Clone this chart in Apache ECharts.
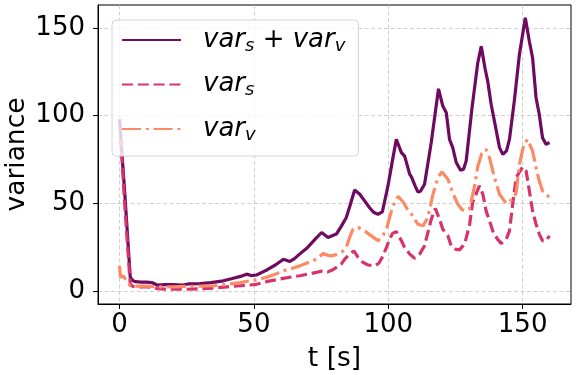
<!DOCTYPE html>
<html>
<head>
<meta charset="utf-8">
<script src="https://cdn.jsdelivr.net/npm/echarts@6/dist/echarts.min.js"></script>
<style>
  html, body { margin: 0; padding: 0; background: #fff; }
  #main { width: 577px; height: 375px; }
</style>
</head>
<body>
<div id="main"></div>
<script>
// var_s + var_v
const tTotal = [0, 0.5, 2, 4, 5, 6, 8, 10, 12, 14, 17, 20, 23, 26, 30, 34, 38.6, 42, 45, 47.3, 49, 51, 53, 55, 58, 61, 63.4, 65, 67, 70, 73, 75.2, 77.6, 80.7, 82.5, 84.4, 86, 87.5, 89.4, 91.2, 93, 94.5, 96.2, 97.8, 99.9, 101.5, 103, 104.9, 106.1, 108, 108.6, 110, 111, 112, 113.5, 116, 118.7, 120.3, 121.6, 122.8, 124, 125.3, 126.9, 128, 129, 131.1, 133.3, 134.6, 136, 137, 138.3, 139.5, 141.4, 142.6, 144, 145.1, 146.9, 148.8, 151, 152.5, 153.7, 155, 156.2, 157.4, 158.7, 160]
const vTotal = [98, 97, 55, 8, 6, 5.5, 5.2, 5.3, 5, 3.6, 3.8, 3.9, 3.5, 4.3, 4.4, 5, 6, 7.3, 8.5, 9.8, 9, 9.3, 10.8, 12.3, 15, 18.3, 17, 18.5, 21.2, 25, 30, 33.5, 30.7, 32.6, 37, 42, 50, 57.7, 55.3, 51.5, 47.7, 45, 43.9, 45.2, 60, 74, 86.5, 79, 77, 66.6, 65.3, 60, 56.6, 57, 61, 84.7, 115.3, 105.5, 101.7, 86.5, 81.8, 73.3, 68.9, 69.5, 74.2, 103.6, 130, 139.5, 127, 119.7, 106.4, 97, 81.8, 78, 80, 86.5, 108.3, 134.8, 155.7, 142.4, 133, 110.2, 100.7, 87.5, 83.7, 84.7]

// var_s
const tS = [0, 0.5, 2, 4, 5, 8, 10, 12, 14, 17, 20, 25, 30, 35, 40, 45, 48.5, 51, 54.7, 58, 60.9, 64, 67.1, 70, 73.3, 75.5, 77.5, 79, 80.7, 82.5, 83.8, 85.5, 87.2, 88.8, 90.6, 92.5, 95, 96.5, 98.1, 100.5, 101.6, 103, 104.9, 106.1, 108, 109.8, 111.7, 113.5, 116, 117.5, 119.1, 120.3, 122.2, 123.4, 125, 126.5, 128.4, 130.2, 131.4, 133.9, 135.2, 136.4, 137.7, 138.9, 140.5, 142, 143.9, 145.1, 146.3, 147.6, 150, 151.3, 152.5, 153.7, 155, 156.2, 157.4, 158.5, 160]
const vS = [84, 86, 48, 4, 2.8, 2.5, 2.5, 2.3, 1.6, 1.3, 1.2, 1.2, 1.5, 1.8, 2.6, 3.2, 3.6, 4, 5.5, 6.5, 7.4, 8.2, 8.9, 9.8, 10.8, 11.6, 11.1, 12, 13.6, 15.5, 18.3, 21, 23, 19.3, 16.5, 15, 14.5, 16, 20.2, 29.7, 33, 34, 28.8, 25, 21.2, 18.8, 21.2, 26, 41, 47.2, 41, 35.4, 31.6, 26, 24, 23.6, 26.9, 37.3, 50.6, 60, 55.3, 45.8, 40, 34.4, 30, 27.3, 29.7, 34.4, 49.6, 64.8, 70.8, 68.5, 57.2, 45.8, 38.2, 32.6, 28.8, 28.5, 31.6]

// var_v
const tV = [0, 0.4, 0.9, 1.5, 2.5, 4, 6, 10, 14, 20, 25, 30, 35, 40, 45, 48.5, 51, 54.7, 58, 60.9, 64, 67.1, 70, 73.3, 75.8, 77.5, 78.9, 81.3, 82.8, 84.4, 85.7, 86.9, 88.8, 91.2, 93.7, 96.2, 98, 99.3, 101.6, 103.6, 105.5, 107, 108.6, 111, 113, 114.7, 116.6, 118.5, 120, 122.2, 124, 125.9, 127.5, 129, 130.2, 132, 133.3, 134.8, 136.4, 137.7, 139.5, 141.4, 143.9, 146.3, 147.6, 148.8, 150.5, 151.9, 153.7, 155, 156.2, 157.4, 160]
const vV = [14.5, 8, 7, 8.7, 6, 3.2, 3, 3, 2.5, 2.5, 2.8, 3, 3.2, 4, 5, 6, 6.5, 8, 9.8, 11.7, 13, 14.5, 16.3, 18.3, 21.6, 20.5, 20.2, 21.2, 22.5, 25, 31, 35.4, 36.4, 34.4, 31.6, 28.8, 31.6, 35.4, 48, 54, 51, 47, 44, 38.2, 37.3, 42, 55, 65, 68, 63.8, 56, 49.6, 46.5, 45.8, 46.8, 59, 71, 78.5, 80.8, 76, 64.8, 55.3, 50, 52.4, 56.2, 72.3, 84, 86.5, 79.9, 70.5, 62.8, 57.2, 53.4]

const xTicks = [0, 50, 100, 150]
const yTicks = [0, 50, 100, 150]

const pairs = (ts, vs) => ts.map((t, i) => [t, vs[i]])

const myChart = echarts.init(document.getElementById('main'), null, { renderer: 'canvas' })

const gridLine = { show: true, lineStyle: { color: '#c4c4c4', width: 0.8, type: [4, 2.5] } }
const tickFont = { fontFamily: 'DejaVu Sans', fontSize: 26, color: '#000' }
const nameFont = { fontFamily: 'DejaVu Sans', fontSize: 26.5, color: '#000' }
const legendFont = { fontFamily: 'DejaVu Sans', fontStyle: 'italic', fontSize: 26, color: '#000' }

const option = {
  animation: false,
  grid: {
    left: 98, right: 6, top: 5, bottom: 71,
    outerBoundsMode: 'none', containLabel: false,
    show: true, borderColor: '#000', borderWidth: 1, backgroundColor: 'transparent'
  },
  xAxis: {
    type: 'value', min: -8, max: 168,
    name: 't [s]', nameLocation: 'middle', nameGap: 42, nameMoveOverlap: false,
    nameTextStyle: nameFont,
    axisLine: { show: true, onZero: false, lineStyle: { color: '#000', width: 1 } },
    axisTick: { show: true, length: 5, customValues: xTicks, lineStyle: { color: '#000' } },
    axisLabel: Object.assign({ margin: 8, customValues: xTicks }, tickFont),
    splitLine: gridLine
  },
  yAxis: {
    type: 'value', min: -7.2, max: 163,
    name: 'variance', nameLocation: 'middle', nameGap: 67, nameRotate: 90, nameMoveOverlap: false,
    nameTextStyle: nameFont,
    axisLine: { show: true, onZero: false, lineStyle: { color: '#000', width: 1 } },
    axisTick: { show: true, length: 5, customValues: yTicks, lineStyle: { color: '#000' } },
    axisLabel: Object.assign({ margin: 13, customValues: yTicks }, tickFont),
    splitLine: gridLine
  },
  legend: {
    orient: 'vertical',
    left: 112, top: 20,
    itemWidth: 59, itemHeight: 30, itemGap: 16.5,
    padding: [7, 13, 12, 9],
    backgroundColor: 'rgba(255,255,255,0.8)',
    borderColor: '#d4d4d4', borderWidth: 1, borderRadius: 4,
    itemStyle: { opacity: 0, borderWidth: 0 },
    data: ['total', 's', 'v'],
    formatter: function (name) {
      if (name === 'total') return '{i|var}{sub|s}{p| + }{i|var}{sub|v}'
      return '{i|var}{sub|' + name + '}'
    },
    textStyle: {
      padding: [0, 0, 0, 17],
      rich: {
        i: legendFont,
        p: { fontFamily: 'DejaVu Sans', fontSize: 26, color: '#000' },
        sub: { fontFamily: 'DejaVu Sans', fontStyle: 'italic', fontSize: 18, color: '#000', padding: [12, 0, 0, 0] }
      }
    }
  },
  series: [
    {
      name: 'total', type: 'line', symbol: 'none', smooth: false,
      data: pairs(tTotal, vTotal),
      lineStyle: { color: '#6e0a60', width: 3.2 },
      itemStyle: { color: '#6e0a60' }
    },
    {
      name: 's', type: 'line', symbol: 'none', smooth: false,
      data: pairs(tS, vS),
      lineStyle: { color: '#d7356a', width: 3.2, type: [11, 4.8] },
      itemStyle: { color: '#d7356a' }
    },
    {
      name: 'v', type: 'line', symbol: 'none', smooth: false,
      data: pairs(tV, vV),
      lineStyle: { color: '#fb8a65', width: 3.2, type: [19, 4.8, 3, 4.8] },
      itemStyle: { color: '#fb8a65' }
    }
  ]
}
myChart.setOption(option)
</script>
</body>
</html>
